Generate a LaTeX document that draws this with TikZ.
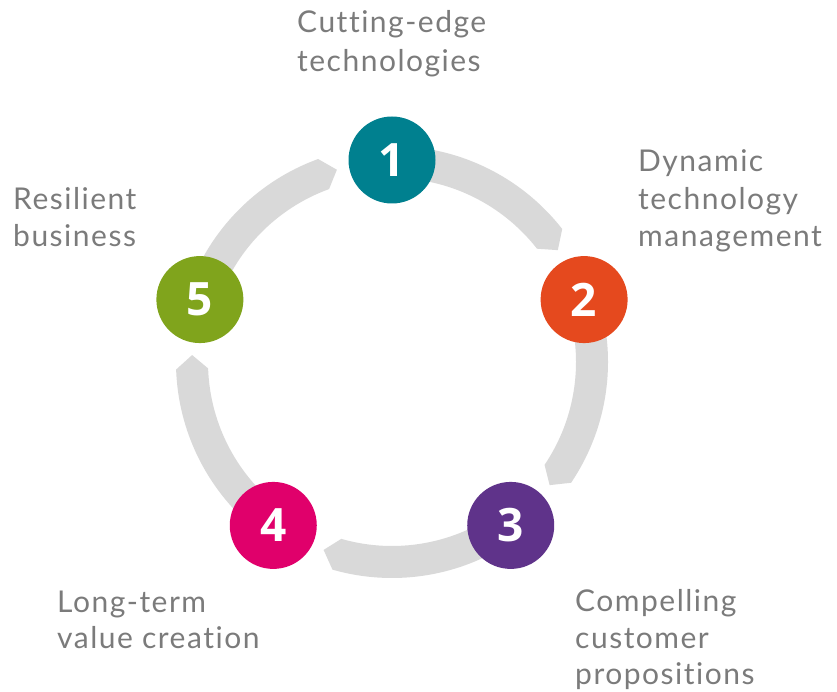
\documentclass[tikz,border=0pt]{standalone}
\usepackage{fontspec}
\setmainfont{Lato}
\newfontfamily\labfont[LetterSpace=5,Ligatures={NoCommon,NoRare,NoContextual}]{Lato}
\newfontfamily\numfont{Open Sans}
\definecolor{ringgray}{HTML}{D9D9D9}
\definecolor{labgray}{HTML}{7B7B7B}
\definecolor{cone}{HTML}{00808F}
\definecolor{ctwo}{HTML}{E5491E}
\definecolor{cthree}{HTML}{5F338A}
\definecolor{cfour}{HTML}{E0006B}
\definecolor{cfive}{HTML}{80A41C}
\tikzset{
  numnode/.style={circle, minimum size=87pt, inner sep=0pt, text=white,
    font=\numfont\bfseries\fontsize{46}{46}\selectfont},
  labline/.style={anchor=base west, inner sep=0pt, text=labgray,
    font=\labfont\fontsize{30}{30}\selectfont},
  ringarrow/.style={fill=ringgray, draw=none}
}
\begin{document}
\begin{tikzpicture}[x=1pt,y=1pt]
\useasboundingbox (0,0) rectangle (837,692);
\begin{scope}[shift={(392,330)}]
  \foreach \a in {90,18,-54,-126,-198}{
    \pgfmathsetmacro{\e}{\a-52}
    \pgfmathsetmacro{\p}{\a-56}
    \fill[ringarrow] (\a:216) arc[start angle=\a, end angle=\e, radius=216]
      -- (\p:200) -- (\e:184) arc[start angle=\e, end angle=\a, radius=184] -- cycle;
  }
  \node[numnode, fill=cone]   (n1) at (90:202)   {1};
  \node[numnode, fill=ctwo]   (n2) at (18:202)   {2};
  \node[numnode, fill=cthree] (n3) at (-54:202)  {3};
  \node[numnode, fill=cfour]  (n4) at (-126:202) {4};
  \node[numnode, fill=cfive]  (n5) at (-198:202) {5};
\end{scope}
\node[labline] (l1a) at (297,659) {Cutting-edge};
\node[labline] (l1b) at (297,620) {technologies};
\node[labline] (l2a) at (638,520) {Dynamic};
\node[labline] (l2b) at (638,482.5) {technology};
\node[labline] (l2c) at (638,445) {management};
\node[labline] (l5a) at (13,482) {Resilient};
\node[labline] (l5b) at (13,445) {business};
\node[labline] (l4a) at (57,79) {Long-term};
\node[labline] (l4b) at (57,43) {value creation};
\node[labline] (l3a) at (575,80) {Compelling};
\node[labline] (l3b) at (575,43) {customer};
\node[labline] (l3c) at (575,7) {propositions};
\end{tikzpicture}
\end{document}
